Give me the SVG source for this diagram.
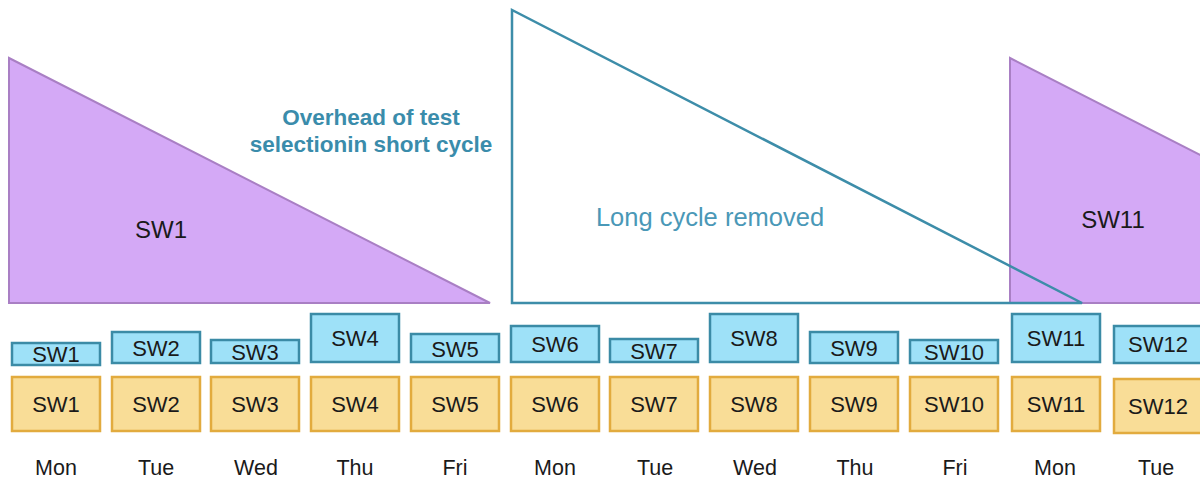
<svg xmlns="http://www.w3.org/2000/svg" width="1200" height="482" viewBox="0 0 1200 482">
<style>
text{font-family:"Liberation Sans",Arial,sans-serif;fill:#1a1a1a;text-anchor:middle}
.big{font-size:24px}
.lbl{font-size:22px}
.day{font-size:21.5px}
.blue rect{fill:#9ee1f8;stroke:#3b8ba6;stroke-width:2.5}
.yel rect{fill:#f9dd97;stroke:#e2ab3e;stroke-width:2.5}
.tri{fill:#d4a9f6;stroke:#a97fc4;stroke-width:2}
.ovh{font-size:22.5px;font-weight:bold;fill:#3a8cab}
</style>
<rect width="1200" height="482" fill="#ffffff"/>
<g id="sw1-cycle">
<polygon class="tri" points="9,58 9,303 490,303"/>
<text class="big" x="161" y="238">SW1</text>
</g>
<g id="sw11-cycle">
<polygon class="tri" points="1010,58 1010,303 1491,303"/>
<text class="big" x="1113" y="228">SW11</text>
</g>
<g id="long-cycle-removed">
<polygon points="512,10 512,303 1082,303" fill="none" stroke="#3d8da9" stroke-width="2.5"/>
<text x="710" y="226" style="font-size:25.5px;fill:#4a98b7">Long cycle removed</text>
</g>
<g id="overhead-label">
<text class="ovh" x="371" y="125">Overhead of test</text>
<text class="ovh" x="371" y="152">selectionin short cycle</text>
</g>
<g id="short-cycle" class="blue">
<g id="b1"><rect x="12" y="343" width="88" height="22"/><text class="lbl" x="56" y="362">SW1</text></g>
<g id="b2"><rect x="112" y="332" width="88" height="31"/><text class="lbl" x="156" y="356">SW2</text></g>
<g id="b3"><rect x="211" y="340" width="88" height="23"/><text class="lbl" x="255" y="360">SW3</text></g>
<g id="b4"><rect x="311" y="314" width="88" height="48"/><text class="lbl" x="355" y="346">SW4</text></g>
<g id="b5"><rect x="411" y="334" width="88" height="28"/><text class="lbl" x="455" y="357">SW5</text></g>
<g id="b6"><rect x="511" y="326" width="88" height="36"/><text class="lbl" x="555" y="352">SW6</text></g>
<g id="b7"><rect x="610" y="339" width="88" height="23"/><text class="lbl" x="654" y="359">SW7</text></g>
<g id="b8"><rect x="710" y="314" width="88" height="48"/><text class="lbl" x="754" y="346">SW8</text></g>
<g id="b9"><rect x="810" y="332" width="88" height="31"/><text class="lbl" x="854" y="356">SW9</text></g>
<g id="b10"><rect x="910" y="340" width="88" height="23"/><text class="lbl" x="954" y="360">SW10</text></g>
<g id="b11"><rect x="1012" y="314" width="88" height="48"/><text class="lbl" x="1056" y="346">SW11</text></g>
<g id="b12"><rect x="1114" y="326" width="88" height="37"/><text class="lbl" x="1158" y="352">SW12</text></g>
</g>
<g id="full-cycle" class="yel">
<g id="y1"><rect x="12" y="377" width="88" height="54"/><text class="lbl" x="56" y="412">SW1</text></g>
<g id="y2"><rect x="112" y="377" width="88" height="54"/><text class="lbl" x="156" y="412">SW2</text></g>
<g id="y3"><rect x="211" y="377" width="88" height="54"/><text class="lbl" x="255" y="412">SW3</text></g>
<g id="y4"><rect x="311" y="377" width="88" height="54"/><text class="lbl" x="355" y="412">SW4</text></g>
<g id="y5"><rect x="411" y="377" width="88" height="54"/><text class="lbl" x="455" y="412">SW5</text></g>
<g id="y6"><rect x="511" y="377" width="88" height="54"/><text class="lbl" x="555" y="412">SW6</text></g>
<g id="y7"><rect x="610" y="377" width="88" height="54"/><text class="lbl" x="654" y="412">SW7</text></g>
<g id="y8"><rect x="710" y="377" width="88" height="54"/><text class="lbl" x="754" y="412">SW8</text></g>
<g id="y9"><rect x="810" y="377" width="88" height="54"/><text class="lbl" x="854" y="412">SW9</text></g>
<g id="y10"><rect x="910" y="377" width="88" height="54"/><text class="lbl" x="954" y="412">SW10</text></g>
<g id="y11"><rect x="1012" y="377" width="88" height="54"/><text class="lbl" x="1056" y="412">SW11</text></g>
<g id="y12"><rect x="1114" y="379" width="88" height="54"/><text class="lbl" x="1158" y="414">SW12</text></g>
</g>
<g id="days">
<text class="day" x="56" y="475">Mon</text>
<text class="day" x="156" y="475">Tue</text>
<text class="day" x="256" y="475">Wed</text>
<text class="day" x="355" y="475">Thu</text>
<text class="day" x="455" y="475">Fri</text>
<text class="day" x="555" y="475">Mon</text>
<text class="day" x="655" y="475">Tue</text>
<text class="day" x="755" y="475">Wed</text>
<text class="day" x="855" y="475">Thu</text>
<text class="day" x="955" y="475">Fri</text>
<text class="day" x="1055" y="475">Mon</text>
<text class="day" x="1156" y="475">Tue</text>
</g>
</svg>
